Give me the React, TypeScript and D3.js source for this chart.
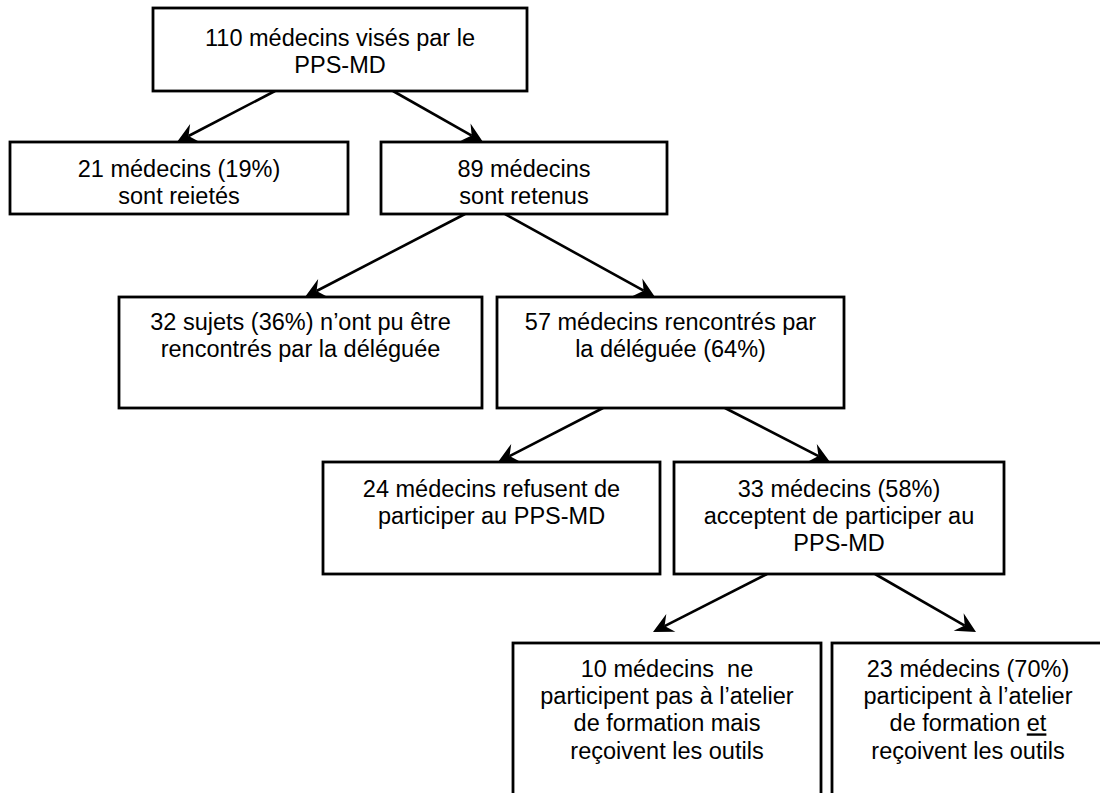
import React, { useEffect, useRef } from 'react';
import * as d3 from 'd3';

// contenu du diagramme
const nodeIds = [
  'vises', 'rejetes', 'retenus', 'nonRencontres', 'rencontres',
  'refusent', 'acceptent', 'sansAtelier', 'avecAtelier',
];
const nodeLines = [
  ['110 médecins visés par le', 'PPS-MD'],
  ['21 médecins (19%)', 'sont reietés'],
  ['89 médecins', 'sont retenus'],
  ['32 sujets (36%) n’ont pu être', 'rencontrés par la déléguée'],
  ['57 médecins rencontrés par', 'la déléguée (64%)'],
  ['24 médecins refusent de', 'participer au PPS-MD'],
  ['33 médecins (58%)', 'acceptent de participer au', 'PPS-MD'],
  ['10 médecins  ne', 'participent pas à l’atelier', 'de formation mais', 'reçoivent les outils'],
  ['23 médecins (70%)', 'participent à l’atelier', 'de formation _et_', 'reçoivent les outils'],
];
const linkSources = ['vises', 'vises', 'retenus', 'retenus', 'rencontres', 'rencontres', 'acceptent', 'acceptent'];
const linkTargets = ['rejetes', 'retenus', 'nonRencontres', 'rencontres', 'refusent', 'acceptent', 'sansAtelier', 'avecAtelier'];

// mise en page (px)
const boxLayout: Record<string, { x: number; y: number; w: number; h: number; t: number }> = {
  vises: { x: 153, y: 8, w: 374, h: 83, t: 38 },
  rejetes: { x: 10, y: 142, w: 338, h: 72, t: 35 },
  retenus: { x: 381, y: 142, w: 286, h: 72, t: 35 },
  nonRencontres: { x: 119, y: 297, w: 363, h: 111, t: 33 },
  rencontres: { x: 497, y: 297, w: 347, h: 111, t: 33 },
  refusent: { x: 323, y: 462, w: 337, h: 112, t: 35 },
  acceptent: { x: 674, y: 462, w: 330, h: 112, t: 35 },
  sansAtelier: { x: 513, y: 643, w: 308, h: 170, t: 34 },
  avecAtelier: { x: 832, y: 643, w: 272, h: 170, t: 34 },
};
// [x départ, x pointe, y pointe]
const linkLayout = [
  [275, 177, 142],
  [393, 483, 142],
  [465, 305, 297],
  [505, 655, 297],
  [603, 498, 462],
  [725, 830, 462],
  [767, 653, 632],
  [875, 976, 632],
];

const width = 1100;
const height = 793;
const fontSize = 23.5;
const lineH = 27.2;

const App = () => {
  const ref = useRef<SVGSVGElement>(null);

  useEffect(() => {
    const svg = d3.select(ref.current);
    svg.selectAll('*').remove();

    const nodes = nodeIds.map((id, i) => ({ id, lines: nodeLines[i], ...boxLayout[id] }));
    const byId = new Map(nodes.map((n) => [n.id, n]));

    const g = svg.append('g');

    // flèches
    const links = linkSources.map((s, i) => {
      const src = byId.get(s)!;
      const [x0, x1, y1] = linkLayout[i];
      return { x0, y0: src.y + src.h, x1, y1, target: linkTargets[i] };
    });

    const line = d3.line();
    const headLen = 20;
    const headHalf = 10;
    const notch = 13;

    links.forEach((l) => {
      const ang = Math.atan2(l.y1 - l.y0, l.x1 - l.x0);
      const c = Math.cos(ang);
      const s = Math.sin(ang);
      const pt = (a: number, b: number): [number, number] => [l.x1 + a * c - b * s, l.y1 + a * s + b * c];
      g.append('path')
        .attr('d', line([[l.x0, l.y0], pt(-notch, 0)]))
        .attr('stroke', '#000')
        .attr('stroke-width', 2.6)
        .attr('fill', 'none');
      g.append('path')
        .attr('d', line([pt(0, 0), pt(-headLen, -headHalf), pt(-notch, 0), pt(-headLen, headHalf)]) + 'Z')
        .attr('fill', '#000');
    });

    // boîtes
    const boxes = g.selectAll('g.node')
      .data(nodes)
      .enter()
      .append('g')
      .attr('class', 'node');

    boxes.append('rect')
      .attr('x', (d) => d.x)
      .attr('y', (d) => d.y)
      .attr('width', (d) => d.w)
      .attr('height', (d) => d.h)
      .attr('fill', '#fff')
      .attr('stroke', '#000')
      .attr('stroke-width', 2.8);

    boxes.each(function (d) {
      const text = d3.select(this)
        .append('text')
        .attr('text-anchor', 'middle')
        .attr('font-family', '"Liberation Sans", Arial, sans-serif')
        .attr('font-size', fontSize)
        .attr('fill', '#000')
        .style('white-space', 'pre');
      d.lines.forEach((ln, i) => {
        const tl = text.append('tspan')
          .attr('x', d.x + d.w / 2)
          .attr('y', d.y + d.t + i * lineH);
        ln.split(/(_[^_]+_)/).filter((p) => p.length).forEach((part) => {
          if (part.startsWith('_') && part.endsWith('_')) {
            tl.append('tspan').text(part.slice(1, -1)).attr('text-decoration', 'underline');
          } else {
            tl.append('tspan').text(part);
          }
        });
      });
    });
  }, []);

  return (
    <svg
      ref={ref}
      width={width}
      height={height}
      style={{ position: 'absolute', left: 0, top: 0, background: '#fff' }}
    />
  );
};

export default App;
